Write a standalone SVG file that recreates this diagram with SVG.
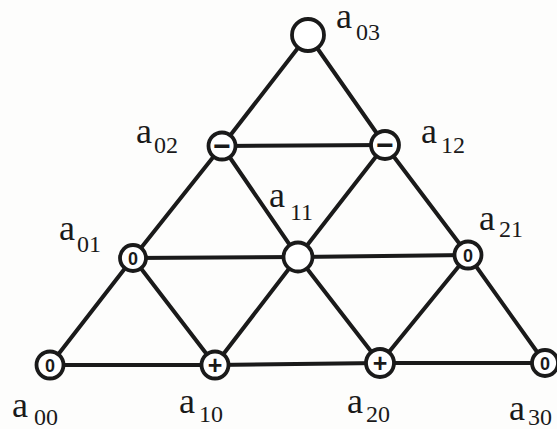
<svg xmlns="http://www.w3.org/2000/svg" width="557" height="429" viewBox="0 0 557 429">
<style>
.bg{fill:#fdfdfc}
.edge{stroke:#1a1a1a;stroke-width:4;stroke-linecap:round;fill:none}
.node{fill:#ffffff;stroke:#1a1a1a;stroke-width:3.8}
.sym{font-family:"Liberation Sans",Arial,sans-serif;font-size:18px;font-weight:bold;fill:#1a1a1a;text-anchor:middle}
.op{font-family:"Liberation Sans",Arial,sans-serif;font-size:25px;font-weight:bold;fill:#1a1a1a;text-anchor:middle}
.mn{font-family:"Liberation Sans",Arial,sans-serif;font-size:30px;font-weight:bold;fill:#1a1a1a;text-anchor:middle}
.lbl{font-family:"Liberation Serif","Times New Roman",serif;fill:#1a1a1a}
.a{font-size:36px}
.s{font-size:24px}
</style>
<rect class="bg" x="0" y="0" width="557" height="429"/>
<g id="connectors">
<line class="edge" x1="50" y1="365" x2="215" y2="365"/>
<line class="edge" x1="215" y1="365" x2="380" y2="363"/>
<line class="edge" x1="380" y1="363" x2="545" y2="363"/>
<line class="edge" x1="133" y1="258" x2="298" y2="257"/>
<line class="edge" x1="298" y1="257" x2="468" y2="255"/>
<line class="edge" x1="222" y1="146" x2="385" y2="145"/>
<line class="edge" x1="50" y1="365" x2="133" y2="258"/>
<line class="edge" x1="133" y1="258" x2="222" y2="146"/>
<line class="edge" x1="222" y1="146" x2="308" y2="35"/>
<line class="edge" x1="215" y1="365" x2="298" y2="257"/>
<line class="edge" x1="298" y1="257" x2="385" y2="145"/>
<line class="edge" x1="380" y1="363" x2="468" y2="255"/>
<line class="edge" x1="545" y1="363" x2="468" y2="255"/>
<line class="edge" x1="468" y1="255" x2="385" y2="145"/>
<line class="edge" x1="385" y1="145" x2="308" y2="35"/>
<line class="edge" x1="380" y1="363" x2="298" y2="257"/>
<line class="edge" x1="298" y1="257" x2="222" y2="146"/>
<line class="edge" x1="215" y1="365" x2="133" y2="258"/>
</g>
<g id="a03">
<circle class="node" cx="308" cy="35" r="16"/>
<text class="lbl"><tspan class="a" x="336" y="28">a</tspan><tspan class="s" x="356" y="40">03</tspan></text>
</g>
<g id="a02">
<circle class="node" cx="222" cy="146" r="13.5"/>
<text class="mn" x="222" y="156">−</text>
<text class="lbl"><tspan class="a" x="136" y="143">a</tspan><tspan class="s" x="154" y="153">02</tspan></text>
</g>
<g id="a12">
<circle class="node" cx="385" cy="145" r="14"/>
<text class="mn" x="385" y="155">−</text>
<text class="lbl"><tspan class="a" x="421" y="143">a</tspan><tspan class="s" x="441" y="153">12</tspan></text>
</g>
<g id="a01">
<circle class="node" cx="133" cy="258" r="13"/>
<text class="sym" x="133" y="264.5">0</text>
<text class="lbl"><tspan class="a" x="59" y="240">a</tspan><tspan class="s" x="77" y="252">01</tspan></text>
</g>
<g id="a11">
<circle class="node" cx="298" cy="257" r="14.5"/>
<text class="lbl"><tspan class="a" x="269" y="207">a</tspan><tspan class="s" x="290" y="220">11</tspan></text>
</g>
<g id="a21">
<circle class="node" cx="468" cy="255" r="13.5"/>
<text class="sym" x="468" y="261.5">0</text>
<text class="lbl"><tspan class="a" x="479" y="230">a</tspan><tspan class="s" x="499" y="237">21</tspan></text>
</g>
<g id="a00">
<circle class="node" cx="50" cy="365" r="13.5"/>
<text class="sym" x="50" y="371.5">0</text>
<text class="lbl"><tspan class="a" x="12" y="417">a</tspan><tspan class="s" x="34" y="425">00</tspan></text>
</g>
<g id="a10">
<circle class="node" cx="215" cy="365" r="13.5"/>
<text class="op" x="215" y="373.5">+</text>
<text class="lbl"><tspan class="a" x="179" y="413">a</tspan><tspan class="s" x="199" y="422">10</tspan></text>
</g>
<g id="a20">
<circle class="node" cx="380" cy="363" r="14"/>
<text class="op" x="380" y="371.5">+</text>
<text class="lbl"><tspan class="a" x="347" y="413">a</tspan><tspan class="s" x="366" y="422">20</tspan></text>
</g>
<g id="a30">
<circle class="node" cx="545" cy="363" r="13"/>
<text class="sym" x="545" y="369.5">0</text>
<text class="lbl"><tspan class="a" x="509" y="420">a</tspan><tspan class="s" x="528" y="425">30</tspan></text>
</g>
</svg>
